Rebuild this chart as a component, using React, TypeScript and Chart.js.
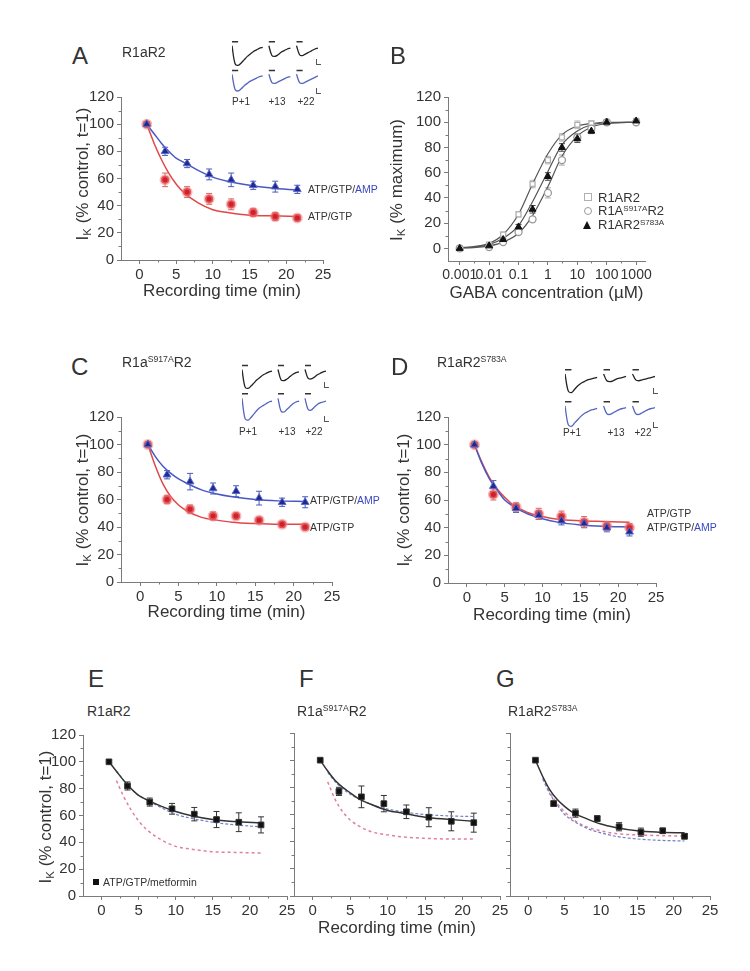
import React, { useEffect, useRef } from 'react';
import { Chart, registerables } from 'chart.js';
Chart.register(...registerables);

const FONT = '"Liberation Sans", Arial, Helvetica, sans-serif';

// ---------- shared axes ----------
const timePoints = [1, 3.5, 6.5, 9.5, 12.5, 15.5, 18.5, 21.5];
const fitTimes = [1, 2, 3, 4, 5, 6, 8, 10, 12, 15, 18, 21.5];
const timeTicks = [0, 5, 10, 15, 20, 25];
const timeMinorTicks = [2.5, 7.5, 12.5, 17.5, 22.5];
const pctTicks = [0, 20, 40, 60, 80, 100, 120];
const pctMinorTicks = [10, 30, 50, 70, 90, 110];
const timeAxisTitle = 'Recording time (min)';
const gabaAxisTitle = 'GABA concentration (\u00b5M)';

// ---------- Panel A (R1aR2) ----------
const aAmpMean = [100, 80, 71, 63, 59, 55, 54, 52];
const aAmpErr = [0, 3, 3, 4, 5, 3, 4, 3];
const aCtrlMean = [100, 59, 50, 45, 41, 35, 32, 31];
const aCtrlErr = [0, 5, 4, 4, 4, 3, 3, 2];
const aAmpFit = [100, 93, 86, 80, 75, 72, 66, 61, 58, 55, 53, 51.5];
const aCtrlFit = [100, 86, 74, 64, 56, 50, 42, 37, 35, 33, 32.5, 32];

// ---------- Panel B (GABA dose-response) ----------
const gabaConc = [0.001, 0.01, 0.03, 0.1, 0.3, 1, 3, 10, 30, 100, 1000];
const r1ar2Resp = [0, 3, 11, 27, 51, 70, 88, 98, 99, 100, 101];
const s917aResp = [0, 1, 5, 13, 23, 44, 70, 88, 95, 100, 100];
const s783aResp = [0, 2, 7, 17, 31, 57, 80, 87, 93, 100, 101];
const r1ar2Err = [0, 1, 2, 2, 3, 3, 3, 3, 2, 1, 2];
const s917aErr = [0, 1, 1, 2, 2, 4, 4, 3, 2, 1, 2];
const s783aErr = [0, 1, 1, 2, 3, 3, 3, 3, 2, 1, 1];
const gabaFitConc = [0.001, 0.003, 0.01, 0.03, 0.1, 0.3, 1, 3, 10, 30, 100, 1000];
const r1ar2Fit = [0.5, 1.5, 4, 11, 27, 51, 75, 90, 97, 99, 100, 100];
const s917aFit = [0.2, 0.6, 2, 5, 12, 26, 49, 73, 89, 96, 99, 100];
const s783aFit = [0.3, 1, 3, 8, 18, 37, 61, 82, 93, 98, 99.5, 100];
const gabaTicks = [0.001, 0.01, 0.1, 1, 10, 100, 1000];
const gabaTickLabels = ['0.001', '0.01', '0.1', '1', '10', '100', '1000'];
const gabaMinorTicks = [0.003, 0.03, 0.3, 3, 30, 300];

// ---------- Panel C (R1a S917A R2) ----------
const cAmpMean = [100, 78, 73, 68, 66, 61, 58, 58];
const cAmpErr = [0, 3, 6, 4, 4, 5, 3, 4];
const cCtrlMean = [100, 60, 53, 48, 48, 45, 42, 40];
const cCtrlErr = [0, 3, 3, 3, 2, 2, 2, 2];
const cAmpFit = [100, 91, 84, 79, 75, 72, 67, 64, 62, 60, 59, 58.5];
const cCtrlFit = [100, 84, 71, 62, 56, 52, 47, 45, 43.5, 42.5, 42, 42];

// ---------- Panel D (R1aR2 S783A) ----------
const dCtrlMean = [100, 64, 55, 50, 48, 44, 41, 40];
const dCtrlErr = [0, 4, 3, 4, 4, 4, 3, 3];
const dAmpMean = [100, 70, 54, 49, 45, 43, 40, 37];
const dAmpErr = [0, 4, 3, 3, 3, 3, 3, 3];
const dCtrlFit = [100, 87, 76, 68, 62, 57, 51, 48, 46, 45, 44.5, 44];
const dAmpFit = [100, 86, 75, 67, 60, 56, 50, 46.5, 44, 42, 41, 40.5];

// ---------- Panels E, F, G (metformin) ----------
const eMetMean = [100, 82, 70, 65, 61, 57, 55, 53];
const eMetErr = [0, 3, 3, 4, 5, 6, 7, 6];
const eMetFit = [100, 93, 86, 80, 75, 72, 67, 63, 60, 57, 55.5, 54.5];
const fMetMean = [100, 77, 73, 68, 62, 58, 55, 54];
const fMetErr = [0, 3, 8, 6, 5, 7, 7, 7];
const fMetFit = [100, 92, 85, 80, 76, 72, 67, 63, 61, 58, 56.5, 55];
const gMetMean = [100, 68, 61, 57, 51, 47, 48, 44];
const gMetErr = [0, 2, 3, 2, 3, 3, 2, 2];
const gMetFit = [100, 88, 78, 71, 66, 62, 57, 53, 50.5, 48, 47, 46.5];
const dashTimes = fitTimes.slice(1);

// ---------- inset current traces (arbitrary units) ----------
const insetBars = [5, 5, 5, null, null, null, null, null, null, null, null, null, 5, 5, 5, null, null, null, null, null, null, 5, 5, 5, null, null, null, null, null];
const insetABlack = [0, -22, -24, -21, -17, -13, -10, -7, -5, -3, -2, null, 0, -12, -13, -11, -8, -6, -4, -3, null, 0, -11, -12, -10, -8, -6, -4, -3];
const insetABlue = [0, -20, -22, -19, -15, -12, -9, -7, -5, -3, -2, null, 0, -11, -12, -10, -8, -6, -4, -3, null, 0, -11, -12, -10, -8, -6, -4, -2];
const insetCBlack = [0, -22, -24, -21, -17, -13, -10, -7, -5, -3, -2, null, 0, -13, -14, -12, -9, -6, -4, -3, null, 0, -11, -12, -10, -7, -5, -3, -2];
const insetCBlue = [0, -22, -24, -21, -17, -13, -10, -8, -6, -4, -3, null, 0, -14, -15, -12, -9, -6, -4, -3, null, 0, -12, -13, -10, -7, -5, -4, -3];
const insetDBlack = [0, -20, -22, -18, -14, -11, -9, -7, -6, -5, -4, null, 0, -8, -9, -8, -6, -5, -4, -3, null, 0, -7, -8, -7, -6, -5, -4, -3];
const insetDBlue = [0, -22, -24, -20, -16, -12, -9, -7, -5, -4, -3, null, 0, -9, -10, -8, -6, -4, -3, -2, null, 0, -9, -10, -8, -6, -4, -3, -2];
const insetLabels = ['P+1', '+13', '+22'];

// ---------- colors ----------
const AX = '#7a7a7a';
const TXT = '#333';
const BLUE_PT = '#1e2a8c';
const BLUE_LN = '#4858c4';
const RED_PT = '#d0202a';
const RED_LN = '#e04848';

const pts = (xs: number[], ys: (number | null)[]) => xs.map((x, i) => ({ x, y: ys[i] }));

const errorBars = {
  id: 'errorBars',
  beforeDatasetsDraw(chart: any) {
    const { ctx, scales } = chart;
    chart.data.datasets.forEach((ds: any) => {
      if (!ds.errors) return;
      ctx.save();
      ctx.strokeStyle = ds.errorColor || '#333';
      ctx.lineWidth = 1;
      ds.data.forEach((p: any, i: number) => {
        const e = ds.errors[i];
        if (!e || p.y == null) return;
        const x = scales.x.getPixelForValue(p.x);
        const yt = scales.y.getPixelForValue(p.y + e);
        const yb = scales.y.getPixelForValue(p.y - e);
        ctx.beginPath();
        ctx.moveTo(x, yt); ctx.lineTo(x, yb);
        ctx.moveTo(x - 3, yt); ctx.lineTo(x + 3, yt);
        ctx.moveTo(x - 3, yb); ctx.lineTo(x + 3, yb);
        ctx.stroke();
      });
      ctx.restore();
    });
  },
};

// small minor tick marks drawn through the chart's scales
const minorTicks = {
  id: 'minorTicks',
  afterDraw(chart: any) {
    const { ctx, scales } = chart;
    const mx: number[] = chart.options.minorX || [];
    const my: number[] = chart.options.minorY || [];
    ctx.save();
    ctx.strokeStyle = AX;
    ctx.lineWidth = 1;
    ctx.beginPath();
    mx.forEach((v) => {
      const x = Math.round(scales.x.getPixelForValue(v)) + 0.5;
      ctx.moveTo(x, scales.x.top); ctx.lineTo(x, scales.x.top + 2.5);
    });
    my.forEach((v) => {
      const y = Math.round(scales.y.getPixelForValue(v)) + 0.5;
      ctx.moveTo(scales.y.right, y); ctx.lineTo(scales.y.right - 2.5, y);
    });
    ctx.stroke();
    ctx.restore();
  },
};

type Box = { x: number; y: number; w: number; h: number; yw: number; xh: number; pt: number; pr: number };

function xTimeScale(b: Box, showTitle: boolean) {
  return {
    type: 'linear', min: -2.5, max: 25,
    afterBuildTicks: (s: any) => { s.ticks = timeTicks.map((v) => ({ value: v })); },
    afterFit: (s: any) => { s.height = b.xh; },
    ticks: { font: { family: FONT, size: 15 }, color: TXT, padding: 2, autoSkip: false, maxRotation: 0 },
    grid: { drawOnChartArea: false, drawTicks: true, tickLength: 4, color: AX },
    border: { color: AX, width: 1 },
    title: { display: showTitle, text: timeAxisTitle, font: { family: FONT, size: 17 }, color: TXT, padding: 0 },
  };
}
function yPctScale(b: Box, showLabels: boolean, min = 0) {
  return {
    type: 'linear', min, max: 120,
    afterBuildTicks: (s: any) => { s.ticks = pctTicks.map((v) => ({ value: v })); },
    afterFit: (s: any) => { s.width = b.yw; },
    ticks: { display: showLabels, font: { family: FONT, size: 15 }, color: TXT, padding: 3, autoSkip: false },
    grid: { drawOnChartArea: false, drawTicks: true, tickLength: 4, color: AX },
    border: { color: AX, width: 1 },
  };
}
function baseOptions(b: Box, scales: any, minorX: number[], minorY: number[]) {
  return {
    responsive: false, maintainAspectRatio: false, animation: false,
    layout: { padding: { top: b.pt, right: b.pr, left: 0, bottom: 0 } },
    plugins: { legend: { display: false }, tooltip: { enabled: false } },
    scales,
    minorX, minorY,
  };
}
function fitLine(xs: number[], ys: number[], color: string, dash: number[] = [], width = 1.5, order = 3) {
  return { data: pts(xs, ys), showLine: true, pointRadius: 0, borderColor: color, borderWidth: width, borderDash: dash, cubicInterpolationMode: 'monotone', fill: false, order };
}
function markers(ys: number[], errs: number[], style: string, bg: string, border: string, bw: number, errColor: string, r = 4, xs = timePoints) {
  return { data: pts(xs, ys), showLine: false, pointStyle: style, pointRadius: r, backgroundColor: bg, borderColor: border, pointBorderWidth: bw, errors: errs, errorColor: errColor, order: 1 };
}
function timeChart(b: Box, datasets: any[], yLabels: boolean, xTitle: boolean) {
  return {
    type: 'scatter',
    data: { datasets },
    options: baseOptions(b, { x: xTimeScale(b, xTitle), y: yPctScale(b, yLabels) }, timeMinorTicks, pctMinorTicks),
    plugins: [errorBars, minorTicks],
  };
}

function ChartCanvas({ b, config }: { b: { x: number; y: number; w: number; h: number }; config: any }) {
  const ref = useRef<HTMLCanvasElement>(null);
  useEffect(() => {
    const chart = new Chart(ref.current as HTMLCanvasElement, config);
    return () => chart.destroy();
  }, []);
  return (
    <canvas ref={ref} width={b.w} height={b.h}
      style={{ position: 'absolute', left: b.x, top: b.y, width: b.w, height: b.h }} />
  );
}

// ---------- boxes ----------
const boxA: Box = { x: 60, y: 85, w: 275, h: 217, yw: 61, xh: 42, pt: 10, pr: 12 };
const boxB: Box = { x: 400, y: 85, w: 260, h: 219, yw: 48, xh: 43, pt: 10, pr: 15 };
const boxC: Box = { x: 60, y: 405, w: 285, h: 218, yw: 61, xh: 41, pt: 12, pr: 13 };
const boxD: Box = { x: 400, y: 405, w: 270, h: 221, yw: 48, xh: 43, pt: 12, pr: 14 };
const boxE: Box = { x: 45, y: 723, w: 255, h: 216, yw: 38, xh: 43, pt: 10, pr: 13 };
const boxF: Box = { x: 280, y: 723, w: 232, h: 216, yw: 14, xh: 43, pt: 10, pr: 12 };
const boxG: Box = { x: 495, y: 723, w: 230, h: 216, yw: 15, xh: 43, pt: 10, pr: 15 };

const redMarkers = (ys: number[], es: number[]) => markers(ys, es, 'circle', RED_PT, 'rgba(240,130,130,0.55)', 3, '#e06060', 4);
const blueMarkers = (ys: number[], es: number[]) => markers(ys, es, 'triangle', BLUE_PT, '#5a6ad0', 1, '#4a5ab8', 4.5);
const blackMarkers = (ys: number[], es: number[]) => markers(ys, es, 'rect', '#111', '#333', 1, '#333', 4);

const cfgA = timeChart(boxA, [
  blueMarkers(aAmpMean, aAmpErr), redMarkers(aCtrlMean, aCtrlErr),
  fitLine(fitTimes, aAmpFit, BLUE_LN), fitLine(fitTimes, aCtrlFit, RED_LN),
], true, true);
const cfgC = timeChart(boxC, [
  blueMarkers(cAmpMean, cAmpErr), redMarkers(cCtrlMean, cCtrlErr),
  fitLine(fitTimes, cAmpFit, BLUE_LN), fitLine(fitTimes, cCtrlFit, RED_LN),
], true, true);
const cfgD = timeChart(boxD, [
  blueMarkers(dAmpMean, dAmpErr), redMarkers(dCtrlMean, dCtrlErr),
  fitLine(fitTimes, dAmpFit, BLUE_LN), fitLine(fitTimes, dCtrlFit, RED_LN),
], true, true);
const cfgE = timeChart(boxE, [
  blackMarkers(eMetMean, eMetErr), fitLine(fitTimes, eMetFit, '#333', [], 1.5, 2),
  fitLine(dashTimes, aAmpFit.slice(1), '#7080c8', [3, 2], 1.2), fitLine(dashTimes, aCtrlFit.slice(1), '#e0809c', [3, 3], 1.5),
], true, false);
const cfgF = timeChart(boxF, [
  blackMarkers(fMetMean, fMetErr), fitLine(fitTimes, fMetFit, '#333', [], 1.5, 2),
  fitLine(dashTimes, cAmpFit.slice(1), '#7080c8', [3, 2], 1.2), fitLine(dashTimes, cCtrlFit.slice(1), '#e0809c', [3, 3], 1.5),
], false, true);
const cfgG = timeChart(boxG, [
  blackMarkers(gMetMean, gMetErr), fitLine(fitTimes, gMetFit, '#333', [], 1.5, 2),
  fitLine(dashTimes, dAmpFit.slice(1), '#7080c8', [3, 2], 1.2), fitLine(dashTimes, dCtrlFit.slice(1), '#e0809c', [3, 3], 1.5),
], false, false);

const cfgB = {
  type: 'scatter',
  data: {
    datasets: [
      markers(s783aResp, s783aErr, 'triangle', '#111', '#111', 1, '#444', 4, gabaConc),
      markers(s917aResp, s917aErr, 'circle', '#fff', '#9a9a9a', 1.3, '#aaa', 3.5, gabaConc),
      markers(r1ar2Resp, r1ar2Err, 'rect', '#fff', '#b0b0b0', 1.3, '#bbb', 3.5, gabaConc),
      fitLine(gabaFitConc, r1ar2Fit, '#555', [], 1.2),
      fitLine(gabaFitConc, s917aFit, '#555', [], 1.2),
      fitLine(gabaFitConc, s783aFit, '#555', [], 1.2),
    ],
  },
  options: baseOptions(boxB, {
    x: {
      type: 'logarithmic', min: 0.0004, max: 2000,
      afterBuildTicks: (s: any) => { s.ticks = gabaTicks.map((v) => ({ value: v })); },
      afterFit: (s: any) => { s.height = boxB.xh; },
      ticks: { font: { family: FONT, size: 14 }, color: TXT, padding: 2, autoSkip: false, maxRotation: 0, callback: (_v: any, i: number) => gabaTickLabels[i] },
      grid: { drawOnChartArea: false, drawTicks: true, tickLength: 4, color: AX },
      border: { color: AX, width: 1 },
      title: { display: true, text: gabaAxisTitle, font: { family: FONT, size: 17 }, color: TXT, padding: 0 },
    },
    y: yPctScale(boxB, true, -10),
  }, gabaMinorTicks, pctMinorTicks),
  plugins: [errorBars, minorTicks],
};

// inset configs
function insetCfg(values: (number | null)[], color: string) {
  return {
    type: 'line',
    data: {
      labels: values.map((_v, i) => String(i)),
      datasets: [
        { data: values, borderColor: color, borderWidth: 1.3, pointRadius: 0, tension: 0.35, spanGaps: false },
        { data: insetBars, borderColor: '#333', borderWidth: 1.5, pointRadius: 0, spanGaps: false },
      ],
    },
    options: {
      responsive: false, maintainAspectRatio: false, animation: false,
      layout: { padding: 0 },
      plugins: { legend: { display: false }, tooltip: { enabled: false } },
      scales: { x: { display: false }, y: { display: false, min: -26, max: 7 } },
    },
  };
}

// ---------- HTML text helpers ----------
function T({ x, y, size = 13, color = TXT, children, center = false, weight = 400 }: any) {
  return (
    <div style={{
      position: 'absolute', left: x, top: y, transform: center ? 'translate(-50%,-50%)' : 'translateY(-50%)',
      fontFamily: FONT, fontSize: size, lineHeight: 1, color, whiteSpace: 'nowrap', fontWeight: weight,
    }}>{children}</div>
  );
}
function R({ x, y, size = 17, children }: any) {
  return (
    <div style={{
      position: 'absolute', left: x, top: y, transform: 'translate(-50%,-50%) rotate(-90deg)',
      fontFamily: FONT, fontSize: size, lineHeight: 1, color: TXT, whiteSpace: 'nowrap',
    }}>{children}</div>
  );
}
const Sup = ({ children }: any) => <span style={{ fontSize: '0.62em', position: 'relative', top: '-0.55em' }}>{children}</span>;
const Sub = ({ children }: any) => <span style={{ fontSize: '0.68em', position: 'relative', top: '0.3em' }}>{children}</span>;
const IkTitle = () => <span>I<Sub>K</Sub> (% control, t=1)</span>;
const Amp = () => <span>ATP/GTP/<span style={{ color: '#3a48c0' }}>AMP</span></span>;
const ScaleBar = ({ x, y }: any) => (
  <div style={{ position: 'absolute', left: x, top: y, width: 4, height: 5, borderLeft: '1px solid #555', borderBottom: '1px solid #555' }} />
);

function Inset({ x, y, w, hTop, hBot, gap, top, bot, labelY, labelXs }: any) {
  return (
    <>
      <ChartCanvas b={{ x, y, w, h: hTop }} config={insetCfg(top, '#222')} />
      <ChartCanvas b={{ x, y: y + hTop + gap, w, h: hBot }} config={insetCfg(bot, '#5565c0')} />
      {insetLabels.map((l, i) => <T key={l} x={labelXs[i]} y={labelY} size={10} center>{l}</T>)}
      <ScaleBar x={x + w - 2} y={y + hTop - 8} />
      <ScaleBar x={x + w - 2} y={y + hTop + gap + hBot - 6} />
    </>
  );
}

export default function App() {
  return (
    <div style={{ position: 'absolute', left: 0, top: 0, width: 750, height: 971, background: '#fff', overflow: 'hidden' }}>
      <ChartCanvas b={boxA} config={cfgA} />
      <ChartCanvas b={boxB} config={cfgB} />
      <ChartCanvas b={boxC} config={cfgC} />
      <ChartCanvas b={boxD} config={cfgD} />
      <ChartCanvas b={boxE} config={cfgE} />
      <ChartCanvas b={boxF} config={cfgF} />
      <ChartCanvas b={boxG} config={cfgG} />

      <Inset x={232} y={40} w={86} hTop={27} hBot={25} gap={2} top={insetABlack} bot={insetABlue} labelY={102} labelXs={[241, 277, 306]} />
      <Inset x={242} y={364} w={84} hTop={26} hBot={30} gap={2} top={insetCBlack} bot={insetCBlue} labelY={432} labelXs={[248, 287, 314]} />
      <Inset x={565} y={368} w={90} hTop={28} hBot={28} gap={4} top={insetDBlack} bot={insetDBlue} labelY={433} labelXs={[572, 616, 643]} />

      {/* panel letters */}
      <T x={72} y={56} size={24}>A</T>
      <T x={390} y={56} size={24}>B</T>
      <T x={71} y={367} size={24}>C</T>
      <T x={391} y={367} size={24}>D</T>
      <T x={88} y={679} size={24}>E</T>
      <T x={299} y={679} size={24}>F</T>
      <T x={496} y={679} size={24}>G</T>

      {/* construct labels */}
      <T x={122} y={52} size={14}>R1aR2</T>
      <T x={122} y={362} size={14}>R1a<Sup>S917A</Sup>R2</T>
      <T x={437} y={362} size={14}>R1aR2<Sup>S783A</Sup></T>
      <T x={87} y={711} size={14}>R1aR2</T>
      <T x={297} y={711} size={14}>R1a<Sup>S917A</Sup>R2</T>
      <T x={508} y={711} size={14}>R1aR2<Sup>S783A</Sup></T>

      {/* y titles */}
      <R x={82} y={174}><IkTitle /></R>
      <R x={396} y={180}><span>I<Sub>K</Sub> (% maximum)</span></R>
      <R x={82} y={500}><IkTitle /></R>
      <R x={403} y={500}><IkTitle /></R>
      <R x={45} y={817}><IkTitle /></R>

      {/* series labels */}
      <T x={308} y={189} size={10.5}><Amp /></T>
      <T x={308} y={216} size={10.5}>ATP/GTP</T>
      <T x={310} y={500} size={10.5}><Amp /></T>
      <T x={310} y={527} size={10.5}>ATP/GTP</T>
      <T x={647} y={513} size={10.5}>ATP/GTP</T>
      <T x={647} y={527} size={10.5}><Amp /></T>

      {/* B legend */}
      <div style={{ position: 'absolute', left: 584, top: 193, width: 6, height: 6, border: '1.3px solid #b0b0b0' }} />
      <T x={598} y={197} size={13}>R1AR2</T>
      <div style={{ position: 'absolute', left: 584, top: 207, width: 6, height: 6, borderRadius: '50%', border: '1.3px solid #9a9a9a' }} />
      <T x={598} y={211} size={13}>R1A<Sup>S917A</Sup>R2</T>
      <div style={{ position: 'absolute', left: 583, top: 221, width: 0, height: 0, borderLeft: '4.5px solid transparent', borderRight: '4.5px solid transparent', borderBottom: '8px solid #111' }} />
      <T x={598} y={225} size={13}>R1AR2<Sup>S783A</Sup></T>

      {/* E legend */}
      <div style={{ position: 'absolute', left: 93, top: 879, width: 6, height: 6, background: '#111' }} />
      <T x={103} y={882} size={10.5}>ATP/GTP/metformin</T>
    </div>
  );
}
